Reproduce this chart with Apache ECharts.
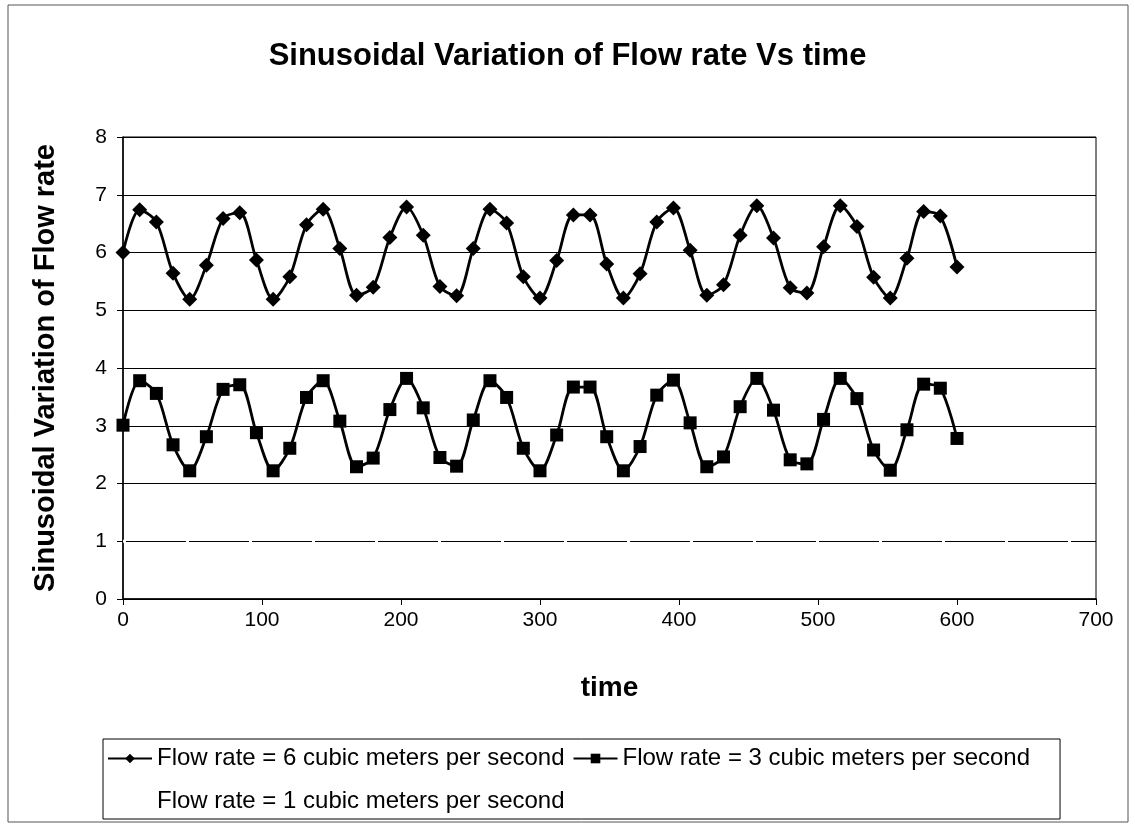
<!DOCTYPE html>
<html>
<head>
<meta charset="utf-8">
<script src="https://cdn.jsdelivr.net/npm/echarts@6/dist/echarts.min.js"></script>
<style>
html,body{margin:0;padding:0;background:#fff;}
#chart{width:1135px;height:826px;}
</style>
</head>
<body>
<div id="chart"></div>
<script>
var titleText = 'Sinusoidal Variation of Flow rate Vs time';
var xName = 'time';
var yName = 'Sinusoidal Variation of Flow rate';
var seriesNames = ['Flow rate = 6 cubic meters per second', 'Flow rate = 3 cubic meters per second', 'Flow rate = 1 cubic meters per second'];
var times = [0,12,24,36,48,60,72,84,96,108,120,132,144,156,168,180,192,204,216,228,240,252,264,276,288,300,312,324,336,348,360,372,384,396,408,420,432,444,456,468,480,492,504,516,528,540,552,564,576,588,600];
var flow6 = [6.00,6.74,6.53,5.64,5.19,5.78,6.59,6.69,5.87,5.19,5.58,6.48,6.75,6.07,5.26,5.40,6.26,6.79,6.30,5.41,5.25,6.07,6.75,6.51,5.58,5.21,5.86,6.65,6.65,5.80,5.21,5.63,6.53,6.77,6.04,5.26,5.44,6.30,6.81,6.25,5.39,5.30,6.10,6.81,6.45,5.57,5.21,5.90,6.71,6.63,5.75];
var flow3 = [3.01,3.78,3.56,2.67,2.22,2.81,3.63,3.71,2.88,2.22,2.61,3.49,3.78,3.08,2.29,2.44,3.28,3.82,3.31,2.45,2.30,3.10,3.78,3.49,2.61,2.22,2.84,3.67,3.67,2.81,2.22,2.64,3.53,3.79,3.05,2.29,2.46,3.33,3.82,3.27,2.41,2.34,3.11,3.82,3.47,2.58,2.23,2.93,3.72,3.65,2.78];
var times1 = [0,700];
var flow1 = [1,1];
var xTicks = [0,100,200,300,400,500,600,700];
var yTicks = [0,1,2,3,4,5,6,7,8];

function pairs(xs, ys){ return xs.map(function(x,i){ return [x, ys[i]]; }); }

var chart = echarts.init(document.getElementById('chart'));
var FONT = 'Liberation Sans, Arial, sans-serif';
chart.setOption({
  animation:false,
  backgroundColor:'#fff',
  title:{text:titleText,left:'center',top:36,textStyle:{fontFamily:FONT,fontSize:31,fontWeight:'bold',color:'#000'}},
  grid:{left:123,right:39,top:137,bottom:227,show:true,borderColor:'#000',borderWidth:1},
  xAxis:{type:'value',min:xTicks[0],max:xTicks[xTicks.length-1],interval:100,
    name:xName,nameLocation:'middle',nameGap:75,
    nameTextStyle:{fontFamily:FONT,fontSize:28,fontWeight:'bold',color:'#000'},
    axisLine:{lineStyle:{color:'#000',width:1.5}},
    axisTick:{show:true,inside:false,length:6,lineStyle:{color:'#000'}},
    axisLabel:{fontFamily:FONT,fontSize:21,color:'#000',margin:11},
    splitLine:{show:false}},
  yAxis:{type:'value',min:yTicks[0],max:yTicks[yTicks.length-1],interval:1,
    name:yName,nameLocation:'middle',nameGap:63,
    nameTextStyle:{fontFamily:FONT,fontSize:29,fontWeight:'bold',color:'#000'},
    axisLine:{show:true,lineStyle:{color:'#000',width:1.5}},
    axisTick:{show:true,inside:false,length:6,lineStyle:{color:'#000'}},
    axisLabel:{fontFamily:FONT,fontSize:21,color:'#000',margin:16},
    splitLine:{show:true,lineStyle:{color:'#000',width:1.2}}},
  legend:{left:103,top:739,width:950,orient:'horizontal',itemWidth:44,itemHeight:12,itemGap:8,
    padding:[2,30,0,4],borderColor:'#000',borderWidth:1,
    textStyle:{fontFamily:FONT,fontSize:24,lineHeight:35,color:'#000'},
    data:seriesNames},
  graphic:[{type:'rect',shape:{x:8,y:5,width:1120,height:817},style:{fill:'none',stroke:'#555',lineWidth:1},silent:true}],
  series:[
    {name:seriesNames[0],type:'line',data:pairs(times,flow6),smooth:0.3,symbol:'diamond',symbolSize:15,
      lineStyle:{color:'#000',width:2.8},itemStyle:{color:'#000'}},
    {name:seriesNames[1],type:'line',data:pairs(times,flow3),smooth:0.3,symbol:'rect',symbolSize:13,
      lineStyle:{color:'#000',width:2.8},itemStyle:{color:'#000'}},
    {name:seriesNames[2],type:'line',data:pairs(times1,flow1),symbol:'none',
      lineStyle:{color:'#fff',width:3,type:[3,60]},itemStyle:{color:'#fff'},z:3}
  ]
});
</script>
</body>
</html>
